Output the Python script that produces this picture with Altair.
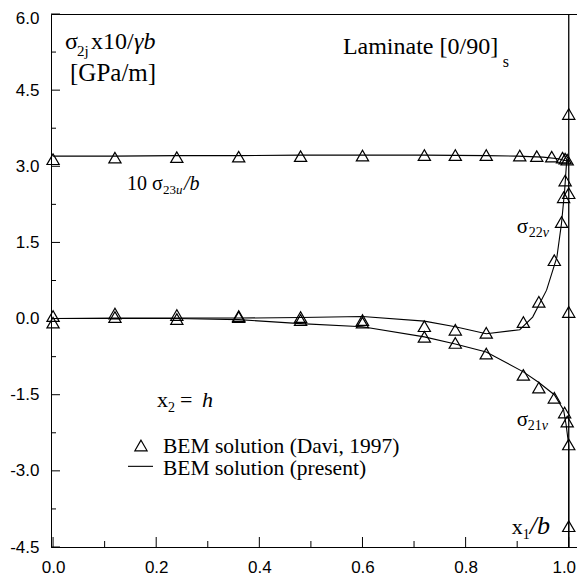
import altair as alt
import pandas as pd

W, H = 526, 533

# ---------------- data ----------------
# BEM solution (Davi, 1997) -- triangles
s23u_davi_x = [0.0, 0.12, 0.24, 0.36, 0.48, 0.60, 0.72, 0.78, 0.84, 0.905, 0.938, 0.967, 0.988, 0.993, 0.997, 1.0]
s23u_davi_y = [3.14, 3.17, 3.18, 3.19, 3.20, 3.21, 3.22, 3.22, 3.22, 3.21, 3.20, 3.19, 3.17, 3.15, 3.13, 4.03]

s22v_davi_x = [0.0, 0.12, 0.24, 0.36, 0.48, 0.60, 0.72, 0.78, 0.84, 0.912, 0.942, 0.972, 0.986, 0.990, 0.993, 1.0, 1.0]
s22v_davi_y = [0.05, 0.10, 0.07, 0.05, 0.03, -0.03, -0.15, -0.22, -0.28, -0.07, 0.33, 1.15, 1.90, 2.39, 2.72, 2.47, 0.13]

s21v_davi_x = [0.0, 0.12, 0.24, 0.36, 0.48, 0.60, 0.72, 0.78, 0.84, 0.912, 0.942, 0.972, 0.992, 0.997, 1.0, 1.0]
s21v_davi_y = [-0.08, 0.03, -0.01, 0.03, -0.03, -0.08, -0.36, -0.48, -0.69, -1.11, -1.36, -1.56, -1.85, -2.03, -2.48, -4.09]

# BEM solution (present) -- lines
s23u_line_x = [0.0, 0.12, 0.24, 0.36, 0.48, 0.60, 0.72, 0.84, 0.90, 0.95, 0.98, 0.99, 1.0]
s23u_line_y = [3.20, 3.20, 3.21, 3.21, 3.22, 3.22, 3.22, 3.21, 3.20, 3.18, 3.15, 3.12, 3.10]

s22v_line_x = [0.0, 0.12, 0.24, 0.36, 0.48, 0.60, 0.72, 0.78, 0.84, 0.905, 0.93, 0.957, 0.977, 0.986, 0.992, 0.996, 1.0]
s22v_line_y = [0.0, 0.01, 0.01, 0.01, 0.02, 0.04, -0.05, -0.16, -0.30, -0.22, 0.03, 0.56, 1.21, 1.88, 2.52, 3.11, 3.15]

s21v_line_x = [0.0, 0.12, 0.24, 0.36, 0.48, 0.60, 0.72, 0.78, 0.84, 0.912, 0.942, 0.972, 0.99, 0.995, 1.0, 1.0]
s21v_line_y = [0.0, 0.0, 0.0, -0.02, -0.10, -0.16, -0.36, -0.50, -0.66, -1.05, -1.26, -1.50, -1.80, -2.10, -2.50, -4.50]

edge_x = [1.0]

x_major = [0.0, 0.2, 0.4, 0.6, 0.8, 1.0]
x_minor = [0.1, 0.3, 0.5, 0.7, 0.9]
y_major = [-4.5, -3.0, -1.5, 0.0, 1.5, 3.0, 4.5, 6.0]
y_minor = [-3.75, -2.25, -0.75, 0.75, 2.25, 3.75, 5.25]

# annotations (data coordinates)
ann_text = ["σ", "2j", "x10/", "[GPa/m]", "Laminate [0/90]", "s",
            "10 σ", "23",
            "σ", "22", "σ", "21",
            "x", "1",
            "x", "2", "=",
            "BEM solution (Davi, 1997)", "BEM solution (present)"]
ann_x = [0.0233, 0.0465, 0.0736, 0.0329, 0.562, 0.872,
         0.1434, 0.2132,
         0.899, 0.9225, 0.899, 0.9205,
         0.8895, 0.9109,
         0.2016, 0.2229, 0.2461,
         0.2132, 0.2132]
ann_y = [5.313, 5.176, 5.313, 4.685, 5.215, 4.96,
         2.526, 2.447,
         1.682, 1.604, -2.125, -2.204,
         -4.245, -4.343,
         -1.733, -1.831, -1.733,
         -2.654, -3.087]
ann_size = [24, 15, 24, 25, 24, 16,
            20, 13,
            21, 14, 21, 14,
            22, 14,
            22, 14, 22,
            21.5, 21.5]

ital_text = ["γb", "u", "/b", "v", "v", "/b", "h"]
ital_x = [0.1569, 0.2384, 0.2539, 0.9496, 0.9477, 0.9244, 0.2888]
ital_y = [5.313, 2.447, 2.526, 1.604, -2.204, -4.245, -1.733]
ital_size = [24, 13, 20, 14, 14, 26, 22]

leg_tri_x = [0.1705]
leg_tri_y = [-2.50]
leg_line_x = [0.1453]
leg_line_x2 = [0.1938]
leg_line_y = [-2.911]


def frame(xs, ys, name):
    return pd.DataFrame({"x": xs, "y": ys, "series": name, "order": list(range(len(xs)))})


davi = pd.concat([frame(s23u_davi_x, s23u_davi_y, "s23u"),
                  frame(s22v_davi_x, s22v_davi_y, "s22v"),
                  frame(s21v_davi_x, s21v_davi_y, "s21v")])
present = pd.concat([frame(s23u_line_x, s23u_line_y, "s23u"),
                     frame(s22v_line_x, s22v_line_y, "s22v"),
                     frame(s21v_line_x, s21v_line_y, "s21v")])

XS = alt.Scale(domain=[-0.004, 1.016], nice=False, zero=False)
YS = alt.Scale(domain=[-4.5, 6.0], nice=False, zero=False)

xaxis = alt.Axis(values=x_major, labelExpr="format(datum.value, '.1f')", tickSize=0,
                 labelPadding=12, grid=False, domainColor="black", domainWidth=1,
                 labelFont="Liberation Sans", labelFontSize=17, labelColor="black",
                 labelOffset={"condition": {"test": "datum.value == 1", "value": -5}, "value": 0},
                 labelFlush=False, labelOverlap=False, title=None)
yaxis = alt.Axis(values=y_major,
                 labelExpr="datum.value < 0 ? '-' + format(-datum.value, '.1f') : format(datum.value, '.1f')",
                 tickSize=0, labelPadding=12, grid=False, domainColor="black", domainWidth=1,
                 labelFont="Liberation Sans", labelFontSize=17, labelColor="black",
                 labelOffset={"condition": {"test": "datum.value == 6", "value": 4}, "value": 0},
                 labelFlush=False, labelOverlap=False, title=None)


def X(field="x"):
    return alt.X(f"{field}:Q", scale=XS, axis=xaxis)


def Y(field="y"):
    return alt.Y(f"{field}:Q", scale=YS, axis=yaxis)


lines = alt.Chart(present).mark_line(color="black", strokeWidth=1.1).encode(
    x=X(), y=Y(), detail="series:N", order="order:Q")

tri = alt.Chart(davi).mark_point(shape="triangle-up", filled=False, color="black",
                                  size=150, strokeWidth=1.2, opacity=1).encode(x=X(), y=Y())

edge = alt.Chart(pd.DataFrame({"x": edge_x})).mark_rule(color="black", strokeWidth=1.3).encode(
    x=X(), y=alt.value(0), y2=alt.value(H))

xmaj = alt.Chart(pd.DataFrame({"x": x_major})).mark_rule(color="black", strokeWidth=1).encode(
    x=X(), y=alt.value(H), y2=alt.value(H - 10))
xmin = alt.Chart(pd.DataFrame({"x": x_minor})).mark_rule(color="black", strokeWidth=1).encode(
    x=X(), y=alt.value(H), y2=alt.value(H - 6))
ymaj = alt.Chart(pd.DataFrame({"y": y_major})).mark_rule(color="black", strokeWidth=1).encode(
    y=Y(), x=alt.value(0), x2=alt.value(9))
ymin = alt.Chart(pd.DataFrame({"y": y_minor})).mark_rule(color="black", strokeWidth=1).encode(
    y=Y(), x=alt.value(0), x2=alt.value(5))

ann = alt.Chart(pd.DataFrame({"x": ann_x, "y": ann_y, "t": ann_text, "s": ann_size})).mark_text(
    align="left", baseline="alphabetic", font="Liberation Serif", color="black").encode(
    x=X(), y=Y(), text="t:N", size=alt.Size("s:Q", scale=None, legend=None))

ital = alt.Chart(pd.DataFrame({"x": ital_x, "y": ital_y, "t": ital_text, "s": ital_size})).mark_text(
    align="left", baseline="alphabetic", font="Liberation Serif", fontStyle="italic", color="black").encode(
    x=X(), y=Y(), text="t:N", size=alt.Size("s:Q", scale=None, legend=None))

leg_tri = alt.Chart(pd.DataFrame({"x": leg_tri_x, "y": leg_tri_y})).mark_point(
    shape="triangle-up", filled=False, color="black", size=150, strokeWidth=1.2, opacity=1).encode(
    x=X(), y=Y())

leg_line = alt.Chart(pd.DataFrame({"x": leg_line_x, "x2": leg_line_x2, "y": leg_line_y})).mark_rule(
    color="black", strokeWidth=1.1).encode(x=X(), x2="x2:Q", y=Y())

chart = alt.layer(lines, tri, edge, xmaj, xmin, ymaj, ymin, ann, ital, leg_tri, leg_line).properties(
    width=W, height=H,
    autosize=alt.AutoSizeParams(type="none"),
    padding={"left": 43, "top": 6, "right": 0, "bottom": 28},
    background="white",
).configure_view(stroke="black", strokeWidth=1)

chart.save("out.html", embed_options={"renderer": "svg", "actions": False})
